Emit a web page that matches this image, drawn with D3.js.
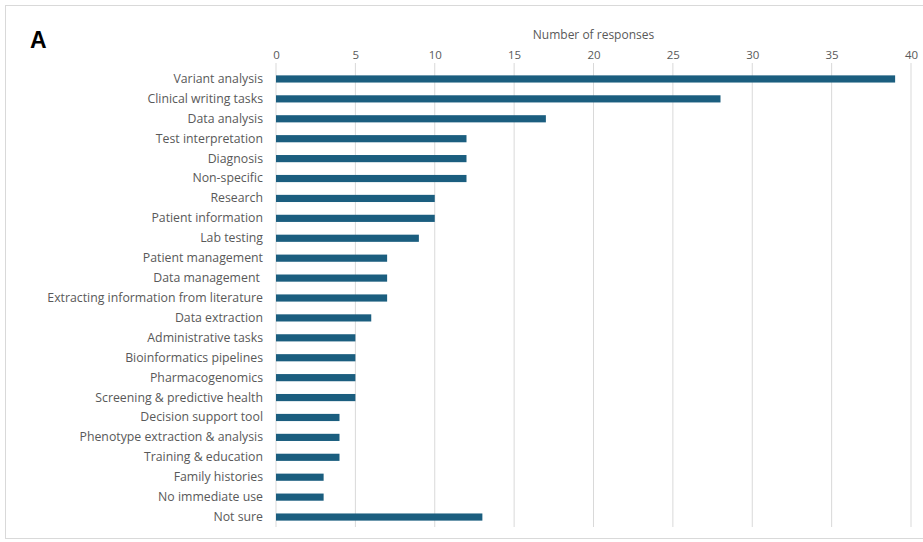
<!DOCTYPE html>
<html>
<head>
<meta charset="utf-8">
<script src="https://cdn.jsdelivr.net/npm/d3@7"></script>
<style>
  body { margin: 0; background: #fff; }
  svg { display: block; }
  .cat text { white-space: pre; }
</style>
</head>
<body>
<svg width="923" height="542"></svg>
<script>
const categories = [
  'Variant analysis', 'Clinical writing tasks', 'Data analysis', 'Test interpretation',
  'Diagnosis', 'Non-specific', 'Research', 'Patient information', 'Lab testing',
  'Patient management', 'Data management ', 'Extracting information from literature',
  'Data extraction', 'Administrative tasks', 'Bioinformatics pipelines', 'Pharmacogenomics',
  'Screening & predictive health', 'Decision support tool', 'Phenotype extraction & analysis',
  'Training & education', 'Family histories', 'No immediate use', 'Not sure'
];
const responses = [39, 28, 17, 12, 12, 12, 10, 10, 9, 7, 7, 7, 6, 5, 5, 5, 5, 4, 4, 4, 3, 3, 13];
const xTicks = [0, 5, 10, 15, 20, 25, 30, 35, 40];

const font = "'Open Sans', sans-serif";
const textColor = '#595959';

const svg = d3.select('svg');
const width = +svg.attr('width');
const margin = { left: 276 };

// chart frame
svg.append('rect')
  .attr('x', 5.5).attr('y', 5.5)
  .attr('width', width - 4).attr('height', 533)
  .attr('fill', 'none').attr('stroke', '#d9d9d9');

svg.append('text')
  .attr('x', 30).attr('y', 48)
  .attr('font-size', 23).attr('font-weight', 'bold')
  .attr('font-family', 'Liberation Sans, Arial, sans-serif')
  .text('A');

const data = categories.map((c, i) => ({ cat: c, value: responses[i] }));

const xScale = d3.scaleLinear().domain([0, 40]).range([margin.left, 911]);
const yScale = d3.scaleBand()
  .domain(categories)
  .range([69, 527])
  .paddingInner(0.64)
  .paddingOuter(0.32);

// gridlines
svg.append('g').selectAll('line').data(xTicks)
  .enter().append('line')
    .attr('x1', d => xScale(d)).attr('x2', d => xScale(d))
    .attr('y1', 63).attr('y2', 527)
    .attr('stroke', '#d9d9d9').attr('stroke-width', 1);

const xAxisG = svg.append('g')
  .attr('transform', 'translate(0,59)')
  .call(d3.axisTop(xScale).tickValues(xTicks).tickSize(0).tickPadding(0));
xAxisG.select('.domain').remove();
xAxisG.attr('font-family', font);
xAxisG.selectAll('text').attr('font-size', 11.5).attr('fill', textColor);

svg.append('text')
  .attr('x', (xScale(0) + xScale(40)) / 2)
  .attr('y', 39)
  .attr('text-anchor', 'middle')
  .attr('fill', textColor)
  .attr('font-family', font)
  .attr('font-size', 12)
  .text('Number of responses');

const yAxisG = svg.append('g')
  .attr('class', 'cat')
  .attr('transform', `translate(${margin.left},0)`)
  .call(d3.axisLeft(yScale).tickSize(0).tickPadding(13));
yAxisG.select('.domain').remove();
yAxisG.attr('font-family', font);
yAxisG.selectAll('text').attr('font-size', 12.3).attr('fill', textColor);

svg.append('g').selectAll('rect').data(data)
  .enter().append('rect')
    .attr('x', xScale(0))
    .attr('y', d => yScale(d.cat))
    .attr('width', d => xScale(d.value) - xScale(0))
    .attr('height', yScale.bandwidth())
    .attr('fill', '#1b5e7f');
</script>
</body>
</html>
